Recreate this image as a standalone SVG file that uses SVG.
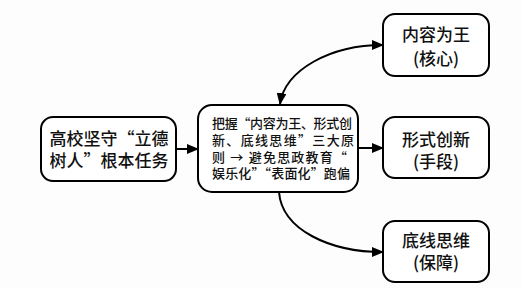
<svg xmlns="http://www.w3.org/2000/svg" width="521" height="288" viewBox="0 0 521 288" xml:lang="zh-CN">
<defs>
<marker id="ah" markerWidth="12" markerHeight="10" refX="11" refY="5" orient="auto" markerUnits="userSpaceOnUse">
<path d="M0,0 L12,5 L0,10 Z" fill="#000"/>
</marker>
<marker id="ahs" markerWidth="12" markerHeight="10" refX="11" refY="5" orient="auto-start-reverse" markerUnits="userSpaceOnUse">
<path d="M0,0 L12,5 L0,10 Z" fill="#000"/>
</marker>
<style>
.box{fill:#fff;stroke:#000;stroke-width:2}
.t{font-family:"Noto Sans CJK SC","Noto Sans",sans-serif;font-weight:500;fill:#111;text-anchor:middle}
.big{font-size:17px}
.mid{font-size:13px;text-anchor:start}
.c{fill:none;stroke:#000;stroke-width:2}
</style>
</defs>
<rect width="521" height="288" fill="#fdfdfd"/>
<g id="connectors">
<line class="c" x1="176" y1="149" x2="198" y2="149" marker-end="url(#ah)"/>
<line class="c" x1="358" y1="148" x2="383" y2="148" marker-end="url(#ah)"/>
<path class="c" d="M280,104 C285,70 330,45 383,45" marker-start="url(#ahs)" marker-end="url(#ah)"/>
<path class="c" d="M279,192 C282,230 330,252 383,252" marker-end="url(#ah)"/>
</g>
<g id="n1">
<rect class="box" x="41" y="117" width="135" height="64" rx="12"/>
<text class="t big"><tspan x="109" y="145">高校坚守“立德</tspan><tspan x="109" y="166.5">树人”根本任务</tspan></text>
</g>
<g id="n2">
<rect class="box" x="198" y="105" width="160" height="87" rx="14"/>
<text class="t mid"><tspan x="212" y="127.5" textLength="140" lengthAdjust="spacing">把握“内容为王、形式创</tspan><tspan x="212" y="144.5" textLength="142" lengthAdjust="spacing">新、底线思维”三大原</tspan><tspan x="212" y="161.5" textLength="135" lengthAdjust="spacing">则 → 避免思政教育“</tspan><tspan x="212" y="178" textLength="138" lengthAdjust="spacing">娱乐化”“表面化”跑偏</tspan></text>
</g>
<g id="n3">
<rect class="box" x="383" y="14" width="106" height="62" rx="12"/>
<text class="t big"><tspan x="436" y="41">内容为王</tspan><tspan x="436" y="65">(核心)</tspan></text>
</g>
<g id="n4">
<rect class="box" x="383" y="117" width="106" height="61" rx="12"/>
<text class="t big"><tspan x="436" y="146">形式创新</tspan><tspan x="436" y="168">(手段)</tspan></text>
</g>
<g id="n5">
<rect class="box" x="383" y="221" width="106" height="61" rx="12"/>
<text class="t big"><tspan x="436" y="247">底线思维</tspan><tspan x="436" y="269">(保障)</tspan></text>
</g>
</svg>
